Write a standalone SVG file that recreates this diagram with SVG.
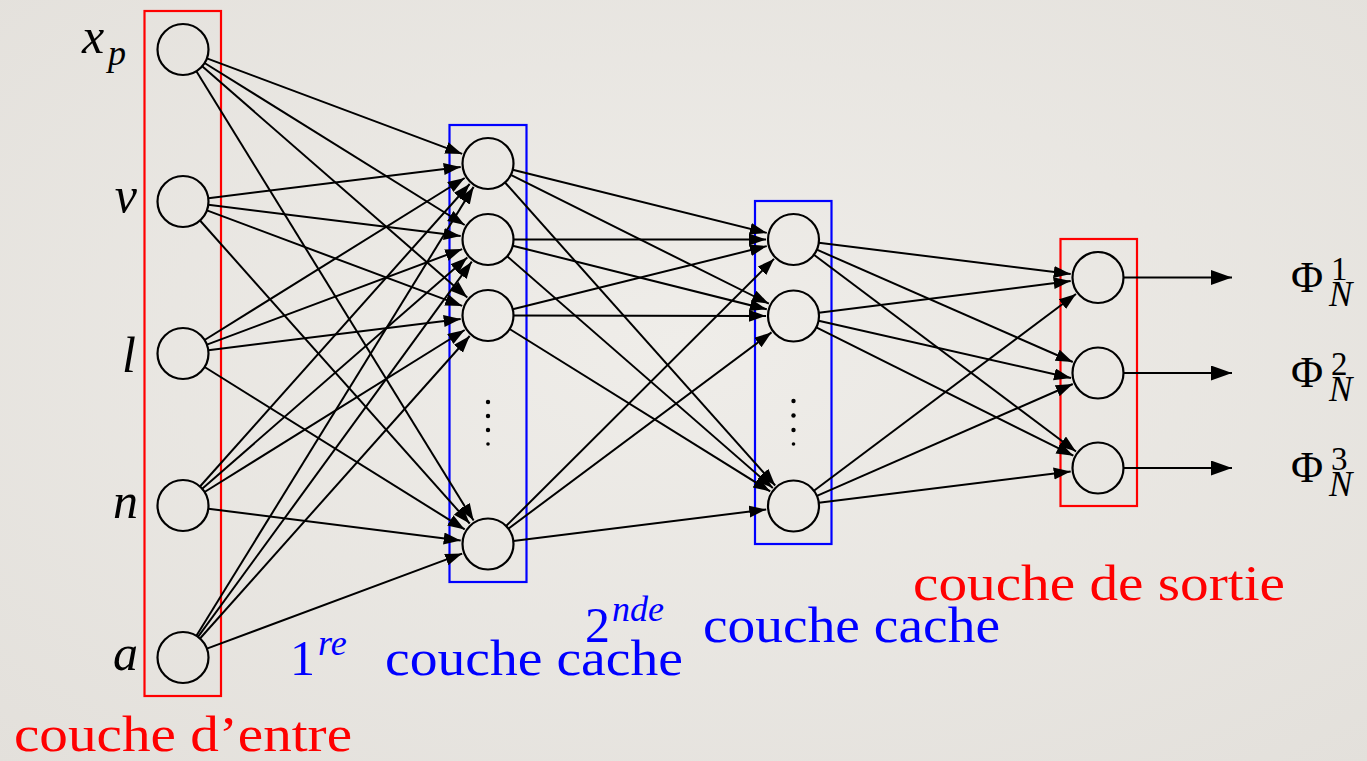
<svg xmlns="http://www.w3.org/2000/svg" width="1367" height="761" viewBox="0 0 1367 761">
<defs>
<radialGradient id="bg" cx="50%" cy="45%" r="75%">
<stop offset="0" stop-color="#efede9"/>
<stop offset="1" stop-color="#e3e0db"/>
</radialGradient>
<marker id="ah" markerUnits="userSpaceOnUse" markerWidth="18" markerHeight="13" refX="17" refY="6" orient="auto">
<path d="M0,0 L17,6 L0,12 z" fill="#000"/>
</marker>
<marker id="ahBig" markerUnits="userSpaceOnUse" markerWidth="22" markerHeight="16" refX="21" refY="7.5" orient="auto">
<path d="M0,0 L21,7.5 L0,15 z" fill="#000"/>
</marker>
<style>
.node{fill:none;stroke:#000;stroke-width:2.2}
.edge{stroke:#000;stroke-width:2;fill:none;marker-end:url(#ah)}
.out{stroke:#000;stroke-width:2;fill:none;marker-end:url(#ahBig)}
.boxR{fill:none;stroke:#ff0000;stroke-width:2.2}
.boxB{fill:none;stroke:#0000ff;stroke-width:2.2}
.lab{font-family:"Liberation Serif","DejaVu Serif",serif;font-style:italic;font-size:50px;fill:#000}
.phi{font-family:"Liberation Serif","DejaVu Serif",serif;font-size:44px;fill:#000}
.cap{font-family:"Liberation Serif","DejaVu Serif",serif;font-size:50px}
.dot{fill:#000}
</style>
</defs>
<rect width="1367" height="761" fill="url(#bg)"/>

<g id="boxes">
<rect class="boxR" x="144.5" y="11" width="76.5" height="685"/>
<rect class="boxB" x="449.5" y="125" width="77" height="457"/>
<rect class="boxB" x="755" y="201" width="76.5" height="343"/>
<rect class="boxR" x="1060.5" y="239" width="76.5" height="267"/>
</g>

<g id="connectors">
<line class="edge" x1="206.9" y1="58.4" x2="462.2" y2="153.9"/>
<line class="edge" x1="204.6" y1="63.0" x2="464.7" y2="225.0"/>
<line class="edge" x1="202.2" y1="66.3" x2="467.3" y2="297.4"/>
<line class="edge" x1="196.4" y1="71.2" x2="473.6" y2="520.6"/>
<line class="edge" x1="208.3" y1="198.3" x2="460.7" y2="166.9"/>
<line class="edge" x1="208.3" y1="204.7" x2="460.7" y2="236.1"/>
<line class="edge" x1="206.9" y1="210.4" x2="462.2" y2="305.9"/>
<line class="edge" x1="200.0" y1="220.5" x2="469.7" y2="523.5"/>
<line class="edge" x1="204.6" y1="340.0" x2="464.7" y2="178.0"/>
<line class="edge" x1="206.9" y1="344.6" x2="462.2" y2="249.1"/>
<line class="edge" x1="208.3" y1="350.3" x2="460.7" y2="318.9"/>
<line class="edge" x1="204.6" y1="367.0" x2="464.7" y2="529.4"/>
<line class="edge" x1="200.0" y1="486.5" x2="469.7" y2="184.0"/>
<line class="edge" x1="202.2" y1="488.7" x2="467.3" y2="257.6"/>
<line class="edge" x1="204.6" y1="492.0" x2="464.7" y2="330.0"/>
<line class="edge" x1="208.3" y1="508.7" x2="460.7" y2="540.6"/>
<line class="edge" x1="196.4" y1="635.8" x2="473.6" y2="186.9"/>
<line class="edge" x1="198.0" y1="636.9" x2="471.8" y2="261.7"/>
<line class="edge" x1="200.0" y1="638.5" x2="469.7" y2="336.0"/>
<line class="edge" x1="206.9" y1="648.6" x2="462.2" y2="553.6"/>

<line class="edge" x1="512.7" y1="169.7" x2="766.8" y2="232.9"/>
<line class="edge" x1="510.8" y1="174.9" x2="768.9" y2="303.7"/>
<line class="edge" x1="505.0" y1="182.5" x2="775.2" y2="485.5"/>
<line class="edge" x1="513.5" y1="239.5" x2="766.0" y2="239.5"/>
<line class="edge" x1="512.7" y1="245.7" x2="766.8" y2="309.3"/>
<line class="edge" x1="507.2" y1="256.3" x2="772.8" y2="487.9"/>
<line class="edge" x1="512.7" y1="309.3" x2="766.8" y2="246.1"/>
<line class="edge" x1="513.5" y1="315.5" x2="766.0" y2="315.9"/>
<line class="edge" x1="509.6" y1="329.0" x2="770.2" y2="491.4"/>
<line class="edge" x1="506.1" y1="526.0" x2="774.0" y2="258.9"/>
<line class="edge" x1="508.4" y1="528.7" x2="771.5" y2="332.4"/>
<line class="edge" x1="513.3" y1="540.9" x2="766.2" y2="509.4"/>

<line class="edge" x1="818.8" y1="242.7" x2="1070.7" y2="274.1"/>
<line class="edge" x1="816.9" y1="249.7" x2="1072.8" y2="362.0"/>
<line class="edge" x1="813.9" y1="254.8" x2="1076.0" y2="451.5"/>
<line class="edge" x1="818.8" y1="312.8" x2="1070.7" y2="281.0"/>
<line class="edge" x1="818.6" y1="320.7" x2="1071.0" y2="378.1"/>
<line class="edge" x1="816.3" y1="327.4" x2="1073.4" y2="455.7"/>
<line class="edge" x1="813.9" y1="490.7" x2="1076.0" y2="294.0"/>
<line class="edge" x1="816.9" y1="495.8" x2="1072.8" y2="384.0"/>
<line class="edge" x1="818.8" y1="502.8" x2="1070.7" y2="471.4"/>

<line class="out" x1="1124" y1="277.5" x2="1232" y2="277.5"/>
<line class="out" x1="1124" y1="373" x2="1232" y2="373"/>
<line class="out" x1="1124" y1="468" x2="1232" y2="468"/>
</g>

<g id="in-xp"><circle class="node" cx="183" cy="49.5" r="25.5"/>
<text class="lab" x="82" y="53">x<tspan x="108" y="65" style="font-size:36px">p</tspan></text></g>
<g id="in-v"><circle class="node" cx="183" cy="201.5" r="25.5"/>
<text class="lab" x="137" y="212" text-anchor="end">v</text></g>
<g id="in-l"><circle class="node" cx="183" cy="353.5" r="25.5"/>
<text class="lab" x="136" y="372" text-anchor="end">l</text></g>
<g id="in-n"><circle class="node" cx="183" cy="505.5" r="25.5"/>
<text class="lab" x="138" y="518" text-anchor="end">n</text></g>
<g id="in-a"><circle class="node" cx="183" cy="657.5" r="25.5"/>
<text class="lab" x="138" y="670" text-anchor="end">a</text></g>

<g id="h1-1"><circle class="node" cx="488" cy="163.5" r="25.5"/></g>
<g id="h1-2"><circle class="node" cx="488" cy="239.5" r="25.5"/></g>
<g id="h1-3"><circle class="node" cx="488" cy="315.5" r="25.5"/></g>
<g id="h1-dots"><circle class="dot" cx="488" cy="402" r="2.2"/><circle class="dot" cx="488" cy="416" r="2.2"/><circle class="dot" cx="488" cy="430" r="2.2"/><circle class="dot" cx="488" cy="444" r="1.8"/></g>
<g id="h1-4"><circle class="node" cx="488" cy="544" r="25.5"/></g>

<g id="h2-1"><circle class="node" cx="793.5" cy="239.5" r="25.5"/></g>
<g id="h2-2"><circle class="node" cx="793.5" cy="316" r="25.5"/></g>
<g id="h2-dots"><circle class="dot" cx="793.5" cy="401" r="2.2"/><circle class="dot" cx="793.5" cy="415.5" r="2.2"/><circle class="dot" cx="793.5" cy="430" r="2.2"/><circle class="dot" cx="793.5" cy="444" r="1.8"/></g>
<g id="h2-3"><circle class="node" cx="793.5" cy="506" r="25.5"/></g>

<g id="out-1"><circle class="node" cx="1098" cy="277.5" r="25.5"/>
<text class="phi" x="1291" y="292">Φ<tspan x="1331" y="280" style="font-size:33px">1</tspan><tspan x="1329" y="306" style="font-size:35px;font-style:italic">N</tspan></text></g>
<g id="out-2"><circle class="node" cx="1098" cy="373" r="25.5"/>
<text class="phi" x="1291" y="387">Φ<tspan x="1331" y="375" style="font-size:33px">2</tspan><tspan x="1329" y="401" style="font-size:35px;font-style:italic">N</tspan></text></g>
<g id="out-3"><circle class="node" cx="1098" cy="468" r="25.5"/>
<text class="phi" x="1291" y="482">Φ<tspan x="1331" y="470" style="font-size:33px">3</tspan><tspan x="1329" y="496" style="font-size:35px;font-style:italic">N</tspan></text></g>

<g id="labels">
<text class="cap" x="14" y="751" fill="#ff0000" textLength="338" lengthAdjust="spacingAndGlyphs">couche d’entre</text>
<text class="cap" x="290" y="675" fill="#0000ff">1<tspan x="318" y="655" style="font-size:36px;font-style:italic">re</tspan><tspan x="385" y="675" textLength="298" lengthAdjust="spacingAndGlyphs">couche cache</tspan></text>
<text class="cap" x="585" y="642" fill="#0000ff">2<tspan x="612" y="621" style="font-size:36px;font-style:italic">nde</tspan><tspan x="703" y="642" textLength="297" lengthAdjust="spacingAndGlyphs">couche cache</tspan></text>
<text class="cap" x="913" y="600" fill="#ff0000" textLength="372" lengthAdjust="spacingAndGlyphs">couche de sortie</text>
</g>
</svg>
